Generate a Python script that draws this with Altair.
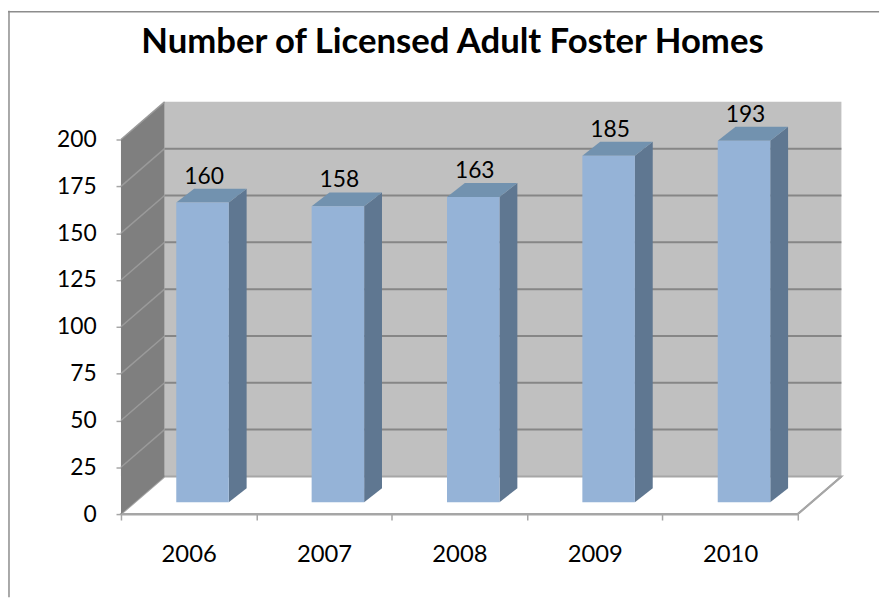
import json
import altair as alt
import pandas as pd

# ---- data ----
years = ["2006", "2007", "2008", "2009", "2010"]
homes = [160, 158, 163, 185, 193]
y_ticks = [0, 25, 50, 75, 100, 125, 150, 175, 200]
grid_levels = [25, 50, 75, 100, 125, 150, 175]
title_text = "Number of Licensed Adult Foster Homes"

# ---- layout / style ----
W, H = 683, 378
N = len(years)
YMAX = 200
ux = N / W          # data units per pixel (x)
uy = YMAX / H       # data units per pixel (y)

WALL_DX, WALL_DY = 44 * ux, 38 * uy
BASE_DX, BASE_DY = 14 * ux, 12 * uy
BAR_DX, BAR_DY = 18 * ux, 14 * uy
BAR_HALF = 26.5 * ux

FONT = "Lato"
FRONT = "#95B3D7"
SIDE = "#5F7791"
TOP = "#7292AF"
WALL_BACK = "#C0C0C0"
WALL_SIDE = "#7F7F7F"
GRID = "#868686"
EDGE = "#A6A6A6"

xs = alt.Scale(domain=[0, N], nice=False, zero=False)
ys = alt.Scale(domain=[0, YMAX], nice=False, zero=False)

# ---- tables built from the arrays ----
front_rows, side_rows, top_rows, label_rows = [], [], [], []
for i, (yr, v) in enumerate(zip(years, homes)):
    c = i + 0.5 + BASE_DX
    L, R = c - BAR_HALF, c + BAR_HALF
    front_rows.append(dict(year=yr, x=L, x2=R, y=BASE_DY, y2=v + BASE_DY))
    side_rows.append(dict(year=yr, x=R, y=BASE_DY, y2=v + BASE_DY))
    side_rows.append(dict(year=yr, x=R + BAR_DX, y=BASE_DY + BAR_DY, y2=v + BASE_DY + BAR_DY))
    top_rows.append(dict(year=yr, y=v + BASE_DY, x=L, x2=R))
    top_rows.append(dict(year=yr, y=v + BASE_DY + BAR_DY, x=L + BAR_DX, x2=R + BAR_DX))
    label_rows.append(dict(year=yr, x=c + 1.5 * ux, y=v + BASE_DY + BAR_DY, value=v))

front_df = pd.DataFrame(front_rows)
side_df = pd.DataFrame(side_rows)
top_df = pd.DataFrame(top_rows)
label_df = pd.DataFrame(label_rows)

back_df = pd.DataFrame([dict(x=WALL_DX, x2=N + WALL_DX, y=WALL_DY, y2=YMAX + WALL_DY)])
grid_df = pd.DataFrame([dict(x=WALL_DX, x2=N + WALL_DX, y=g + WALL_DY) for g in grid_levels])
floor_df = pd.DataFrame([dict(y=0, x=0, x2=N), dict(y=WALL_DY, x=WALL_DX, x2=N + WALL_DX)])
sidewall_df = pd.DataFrame([dict(x=0, y=0, y2=YMAX), dict(x=WALL_DX, y=WALL_DY, y2=YMAX + WALL_DY)])
sidegrid_df = pd.DataFrame([dict(x=0, x2=WALL_DX, y=g, y2=g + WALL_DY) for g in y_ticks[1:]])
floor_edge_df = pd.DataFrame([dict(x=N, x2=N + WALL_DX, y=0, y2=WALL_DY)])

x_label_expr = f"datum.value < {N} ? {json.dumps(years)}[datum.value] : ''"

x_axis = alt.Axis(values=list(range(N + 1)), labelExpr=x_label_expr, title=None,
                  grid=False, labelOffset=W / N / 2, labelPadding=23,
                  labelFont=FONT, labelFontSize=24, labelColor="black",
                  tickSize=6, tickColor=EDGE, tickWidth=1.5,
                  domainColor=EDGE, domainWidth=2, labelFlush=False)
y_axis = alt.Axis(values=y_ticks, title=None, grid=False, domain=False,
                  tickSize=5, tickColor=EDGE, tickWidth=1.5, labelPadding=20,
                  labelFont=FONT, labelFontSize=23, labelColor="black")


def X(field):
    return alt.X(field, scale=xs, axis=x_axis)


def Y(field):
    return alt.Y(field, scale=ys, axis=y_axis)


back = alt.Chart(back_df).mark_rect(fill=WALL_BACK).encode(
    x=X("x:Q"), x2="x2:Q", y=Y("y:Q"), y2="y2:Q")

grid = alt.Chart(grid_df).mark_rule(color=GRID, strokeWidth=2).encode(
    x=X("x:Q"), x2="x2:Q", y=Y("y:Q"))

floor = alt.Chart(floor_df).mark_area(orient="horizontal", fill="white",
                                      stroke=EDGE, strokeWidth=2).encode(
    y=Y("y:Q"), x=X("x:Q"), x2="x2:Q")

sidewall = alt.Chart(sidewall_df).mark_area(fill=WALL_SIDE).encode(
    x=X("x:Q"), y=Y("y:Q"), y2="y2:Q")

sidegrid = alt.Chart(sidegrid_df).mark_rule(color="#9A9A9A", strokeWidth=1.5).encode(
    x=X("x:Q"), x2="x2:Q", y=Y("y:Q"), y2="y2:Q")

floor_edge = alt.Chart(floor_edge_df).mark_rule(color=EDGE, strokeWidth=2).encode(
    x=X("x:Q"), x2="x2:Q", y=Y("y:Q"), y2="y2:Q")

bar_side = alt.Chart(side_df).mark_area(fill=SIDE).encode(
    x=X("x:Q"), y=Y("y:Q"), y2="y2:Q", detail="year:N")

bar_top = alt.Chart(top_df).mark_area(orient="horizontal", fill=TOP).encode(
    y=Y("y:Q"), x=X("x:Q"), x2="x2:Q", detail="year:N")

bar_front = alt.Chart(front_df).mark_rect(fill=FRONT).encode(
    x=X("x:Q"), x2="x2:Q", y=Y("y:Q"), y2="y2:Q")

labels = alt.Chart(label_df).mark_text(font=FONT, fontSize=23, color="black",
                                       baseline="alphabetic", dy=-5).encode(
    x=X("x:Q"), y=Y("y:Q"), text="value:Q")

frame_df = pd.DataFrame([dict(k="frame")])
frame_left = alt.Chart(frame_df).mark_rule(color="#8C8C8C", strokeWidth=1.5).encode(
    x=alt.value(-113), x2=alt.value(-113), y=alt.value(-130), y2=alt.value(H + 84))
frame_top = alt.Chart(frame_df).mark_rule(color="#8C8C8C", strokeWidth=1.5).encode(
    x=alt.value(-114), x2=alt.value(W + 82), y=alt.value(-129), y2=alt.value(-129))

chart = alt.layer(
    back, grid, floor, sidewall, sidegrid, floor_edge,
    bar_side, bar_top, bar_front, labels, frame_left, frame_top
).properties(
    width=W, height=H,
    title=alt.TitleParams(title_text, font=FONT, fontSize=35, fontWeight="bold",
                          color="black", anchor="middle", dx=-7, offset=-78,
                          baseline="alphabetic"),
    autosize=alt.AutoSizeParams(type="none"),
    padding={"left": 114, "top": 130, "right": 89, "bottom": 84},
).configure_view(stroke=None)

chart.save("out.html", embed_options={"renderer": "svg", "actions": False})
